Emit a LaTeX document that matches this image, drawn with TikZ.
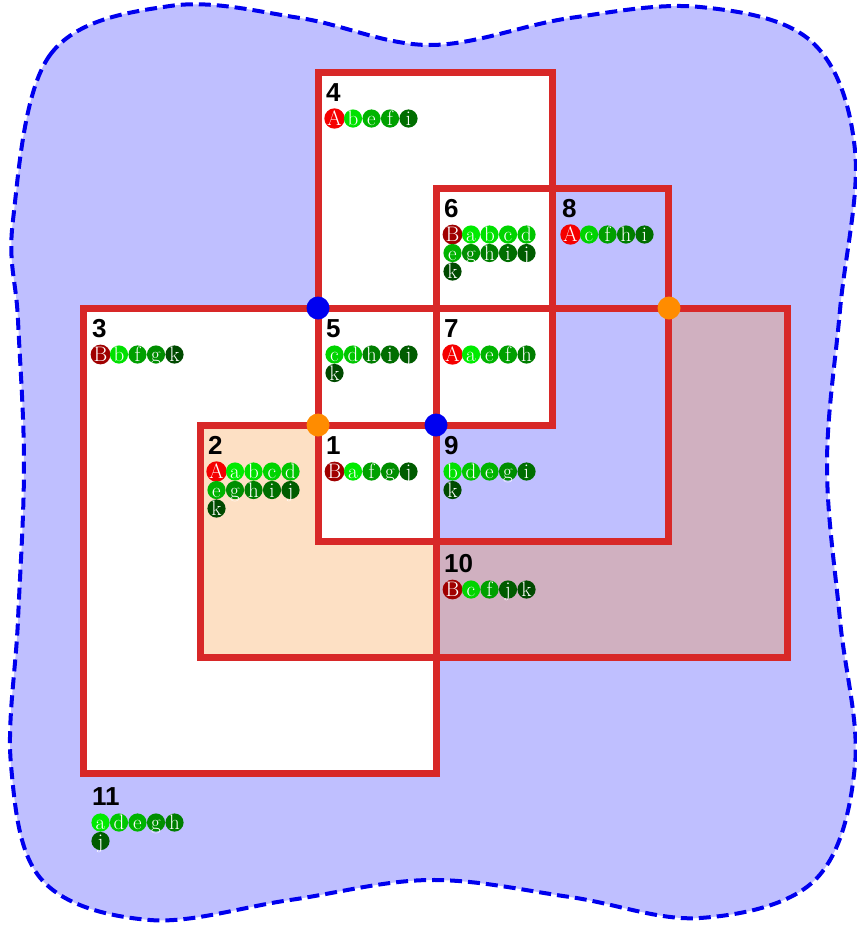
\documentclass[tikz,border=0pt]{standalone}
\usepackage{fontspec}
\setsansfont{Liberation Sans}

% palette
\definecolor{bgblue}{RGB}{191,191,255}
\definecolor{blobblue}{RGB}{0,0,238}
\definecolor{setred}{RGB}{216,40,40}
\definecolor{peach}{RGB}{253,224,196}
\definecolor{mauve}{RGB}{208,176,192}
\definecolor{dotblue}{RGB}{0,0,240}
\definecolor{dotorange}{RGB}{255,140,0}
% chip colours, one per letter
\definecolor{cA}{RGB}{245,0,0}
\definecolor{cB}{RGB}{160,0,0}
\definecolor{ca}{RGB}{0,235,0}
\definecolor{cb}{RGB}{0,225,0}
\definecolor{cc}{RGB}{0,212,0}
\definecolor{cd}{RGB}{0,198,0}
\definecolor{ce}{RGB}{0,180,0}
\definecolor{cf}{RGB}{0,160,0}
\definecolor{cg}{RGB}{0,142,0}
\definecolor{ch}{RGB}{0,126,0}
\definecolor{ci}{RGB}{0,110,0}
\definecolor{cj}{RGB}{0,92,0}
\definecolor{ck}{RGB}{0,74,0}

\tikzset{
  setline/.style={draw=setred, line width=7pt},
  regnum/.style={font=\sffamily\bfseries\fontsize{26}{26}\selectfont,
    anchor=north west, inner sep=0pt},
  chip/.style={circle, inner sep=0pt, minimum size=18.2pt, text=white,
    font=\fontsize{21}{21}\selectfont, text height=14.3pt, text depth=0pt},
  junction/.style={circle, inner sep=0pt, minimum size=23pt},
}

% #1 name, #2 x, #3 y of the region's corner, #4 number, #5 letters
\newcommand\regionlabel[5]{%
  \node[regnum] (n#1) at (#2+8,#3+11.5) {#4};
  \foreach \ltr [count=\idx from 0] in {#5} {
    \pgfmathtruncatemacro\colidx{mod(\idx,5)}
    \pgfmathtruncatemacro\rowidx{floor(\idx/5)}
    \node[chip, fill=c\ltr] (c#1-\idx)
      at ({#2+16.5+18.5*\colidx},{#3+46.5+18.5*\rowidx}) {\ltr};
  }%
}

\begin{document}
\begin{tikzpicture}[x=1pt,y=-1pt]
\useasboundingbox (0,0) rectangle (857,927);

% universe blob
\path[fill=bgblue, draw=blobblue, line width=4pt, dash pattern=on 12pt off 6pt]
  plot[smooth cycle, tension=0.6] coordinates {
    (13,220) (50,55) (170,6) (300,18) (430,45) (570,18) (700,7) (812,42)
    (855,150) (840,310) (827,465) (840,620) (855,765) (815,880) (700,918)
    (570,897) (430,880) (290,900) (150,920) (42,880) (11,765) (18,620)
    (24,465) (18,320)};

% region fills
\fill[white] (318,72) rectangle (552,425);
\fill[white] (83,308) rectangle (436,773);
\fill[peach] (200,425) -- (318,425) -- (318,541) -- (436,541) -- (436,657)
  -- (200,657) -- cycle;
\fill[mauve] (436,541) -- (668,541) -- (668,308) -- (787,308) -- (787,657)
  -- (436,657) -- cycle;

% set boundaries
\draw[setline] (318,72) rectangle (552,425);
\draw[setline] (436,188) rectangle (668,541);
\draw[setline] (83,308) rectangle (436,773);
\draw[setline] (318,425) -- (200,425) -- (200,657) -- (787,657) -- (787,308)
  -- (436,308);
\draw[setline] (318,425) -- (318,541) -- (436,541);

% junction points
\node[junction, fill=dotblue] (jb1) at (318,308) {};
\node[junction, fill=dotblue] (jb2) at (436,425) {};
\node[junction, fill=dotorange] (jo1) at (318,425) {};
\node[junction, fill=dotorange] (jo2) at (669,308) {};

% region labels
\regionlabel{r4}{318}{72}{4}{A,b,e,f,i}
\regionlabel{r6}{436}{188}{6}{B,a,b,c,d,e,g,h,i,j,k}
\regionlabel{r8}{554}{188}{8}{A,c,f,h,i}
\regionlabel{r3}{84}{308}{3}{B,b,f,g,k}
\regionlabel{r5}{318}{308}{5}{c,d,h,i,j,k}
\regionlabel{r7}{436}{308}{7}{A,a,e,f,h}
\regionlabel{r2}{200}{425}{2}{A,a,b,c,d,e,g,h,i,j,k}
\regionlabel{r1}{318}{425}{1}{B,a,f,g,j}
\regionlabel{r9}{436}{425}{9}{b,d,e,g,i,k}
\regionlabel{r10}{436}{543}{10}{B,c,f,j,k}
\regionlabel{r11}{84}{776}{11}{a,d,e,g,h,j}
\end{tikzpicture}
\end{document}
